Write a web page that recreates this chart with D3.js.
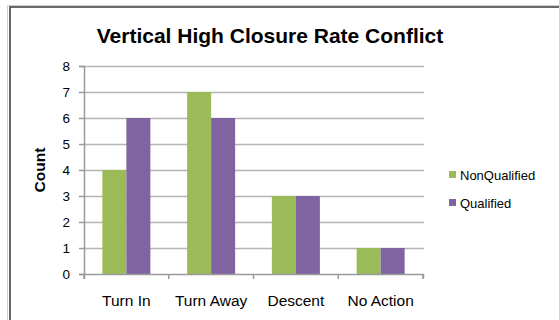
<!DOCTYPE html>
<html><head><meta charset="utf-8">
<script src="https://cdn.jsdelivr.net/npm/d3@7"></script>
<style>body{margin:0;background:#fff;} svg{display:block;}</style>
</head><body>
<svg id="c" width="559" height="320"></svg>
<script>
const categories = ["Turn In", "Turn Away", "Descent", "No Action"];
const seriesNames = ["NonQualified", "Qualified"];
const nonQualified = [4, 7, 3, 1];
const qualified = [6, 6, 3, 1];
const yTicks = [0, 1, 2, 3, 4, 5, 6, 7, 8];
const colors = ["#9BBB59", "#8064A2"];

(function () {
const svg = d3.select("#c");
const font = "Arial, 'Liberation Sans', Helvetica, sans-serif";

// frame
svg.append("rect").attr("x", 7.5).attr("y", 5.5).attr("width", 560).attr("height", 330)
  .attr("fill", "none").attr("stroke", "#d0d0d0").attr("stroke-width", 1);
svg.append("rect").attr("x", 10).attr("y", 7).attr("width", 560).attr("height", 330)
  .attr("fill", "#fff").attr("stroke", "#444").attr("stroke-width", 1.6);

const pLeft = 84, pRight = 423, pTop = 66, pBottom = 274;
const x = d3.scaleBand().domain(categories).range([pLeft, pRight]).paddingInner(0).paddingOuter(0);
const y = d3.scaleLinear().domain([0, 8]).range([pBottom, pTop]);

// gridlines
svg.append("g").selectAll("line").data(yTicks.filter(d => d > 0)).join("line")
  .attr("x1", pLeft).attr("x2", pRight + 1)
  .attr("y1", d => Math.round(y(d)) + 0.5).attr("y2", d => Math.round(y(d)) + 0.5)
  .attr("stroke", "#b4b4b4").attr("stroke-width", 1.5);

// bars
const data = categories.map((c, i) => ({c, vals: [nonQualified[i], qualified[i]]}));
const barW = 24;
const groups = svg.append("g").selectAll("g").data(data).join("g")
  .attr("transform", d => `translate(${x(d.c) + (x.bandwidth() - 2 * barW) / 2},0)`);
groups.selectAll("rect").data(d => d.vals).join("rect")
  .attr("x", (d, i) => i * barW).attr("width", barW)
  .attr("y", d => y(d)).attr("height", d => y(0) - y(d))
  .attr("fill", (d, i) => colors[i]);

// y axis
const yAxis = d3.axisLeft(y).tickValues(yTicks).tickSize(5).tickPadding(9).tickFormat(d3.format("d"));
const yg = svg.append("g").attr("transform", `translate(${pLeft},0)`).call(yAxis);
yg.select(".domain").attr("stroke", "#9a9a9a").attr("stroke-width", 1.5);
yg.selectAll(".tick line").attr("stroke", "#9a9a9a").attr("stroke-width", 1.5);
yg.selectAll("text").attr("font-family", font).attr("font-size", 13.5).attr("fill", "#000");

// x axis
const xAxis = d3.axisBottom(x).tickSize(5).tickPadding(16).tickSizeOuter(5);
const xg = svg.append("g").attr("transform", `translate(0,${pBottom})`).call(xAxis);
xg.select(".domain").attr("stroke", "#9a9a9a").attr("stroke-width", 1.5);
xg.selectAll(".tick line").attr("stroke", "none");
xg.selectAll("text").attr("font-family", font).attr("font-size", 15.5).attr("fill", "#000");
// category boundary ticks
svg.append("g").selectAll("line").data(categories.concat(["_end"])).join("line")
  .attr("x1", (d, i) => i < categories.length ? x(d) : pRight)
  .attr("x2", (d, i) => i < categories.length ? x(d) : pRight)
  .attr("y1", pBottom).attr("y2", pBottom + 5)
  .attr("stroke", "#9a9a9a").attr("stroke-width", 1.5);

// title
svg.append("text").attr("x", 270).attr("y", 43).attr("text-anchor", "middle")
  .attr("font-family", font).attr("font-weight", "bold").attr("font-size", 21)
  .text("Vertical High Closure Rate Conflict");

// y title
svg.append("text").attr("transform", "translate(45,170) rotate(-90)").attr("text-anchor", "middle")
  .attr("font-family", font).attr("font-weight", "bold").attr("font-size", 15.5)
  .text("Count");

// legend
const lg = svg.append("g").selectAll("g").data(seriesNames).join("g")
  .attr("transform", (d, i) => `translate(449,${175 + i * 28})`);
lg.append("rect").attr("x", 0).attr("y", -4).attr("width", 7).attr("height", 7).attr("fill", (d, i) => colors[i]);
lg.append("text").attr("x", 11).attr("y", 4.5).attr("font-family", font).attr("font-size", 13)
  .text(d => d);
})();
</script>
</body></html>
